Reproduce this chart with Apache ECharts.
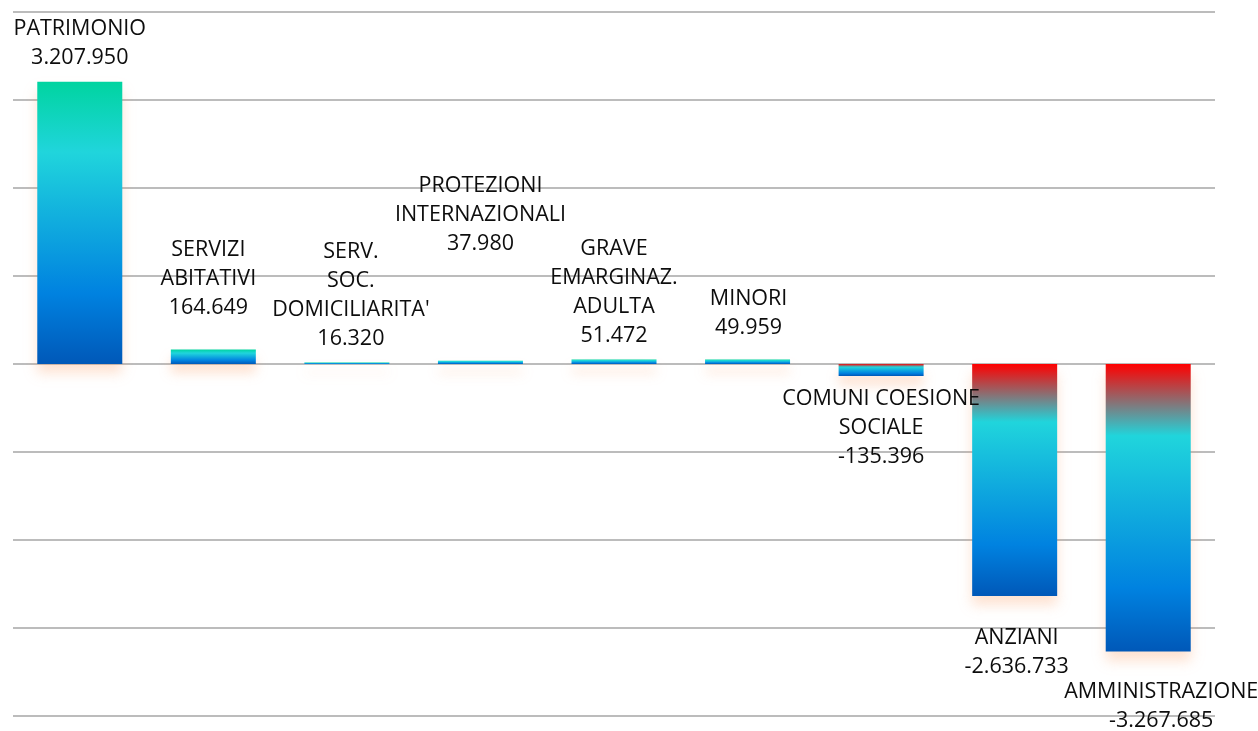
<!DOCTYPE html>
<html>
<head>
<meta charset="utf-8">
<script src="https://cdn.jsdelivr.net/npm/echarts@6/dist/echarts.min.js"></script>
<style>
  html, body { margin: 0; padding: 0; background: #fff; }
  #chart { width: 1258px; height: 731px; }
</style>
</head>
<body>
<div id="chart"></div>
<script>
// dati
var categories = [
  "PATRIMONIO",
  "SERVIZI\nABITATIVI",
  "SERV.\nSOC.\nDOMICILIARITA'",
  "PROTEZIONI\nINTERNAZIONALI",
  "GRAVE\nEMARGINAZ.\nADULTA",
  "MINORI",
  "COMUNI COESIONE\nSOCIALE",
  "ANZIANI",
  "AMMINISTRAZIONE"
];
var values = [3207950, 164649, 16320, 37980, 51472, 49959, -135396, -2636733, -3267685];
var yTicks = [-4000000, -3000000, -2000000, -1000000, 0, 1000000, 2000000, 3000000, 4000000];

// spostamenti delle etichette (posizionate a mano nell'originale)
var labelOffsets = [[0, 2], [-5, -16], [4, 2], [0, -91], [0, 2], [1, -6], [0, -3], [2, 16], [13, 15]];

function fmt (v) {
  var s = Math.abs(v).toString().replace(/\B(?=(\d{3})+(?!\d))/g, ".");
  return (v < 0 ? "-" : "") + s;
}

var posGradient = new echarts.graphic.LinearGradient(0, 0, 0, 1, [
  { offset: 0, color: "#00d4a0" },
  { offset: 0.25, color: "#20d5dc" },
  { offset: 0.75, color: "#0082e0" },
  { offset: 1, color: "#0058b8" }
]);
var negGradient = new echarts.graphic.LinearGradient(0, 0, 0, 1, [
  { offset: 0, color: "#ff0000" },
  { offset: 0.25, color: "#20d5dc" },
  { offset: 0.78, color: "#0082e0" },
  { offset: 1, color: "#0058b8" }
]);

var myChart = echarts.init(document.getElementById("chart"));
var option = {
  animation: false,
  grid: { left: 13, right: 43, top: 12, bottom: 15 },
  xAxis: {
    type: "category",
    data: categories,
    axisLine: { show: false },
    axisTick: { show: false },
    axisLabel: { show: false }
  },
  yAxis: {
    type: "value",
    min: yTicks[0],
    max: yTicks[yTicks.length - 1],
    interval: 1000000,
    axisLabel: { show: false },
    axisLine: { show: false },
    axisTick: { show: false },
    splitLine: { lineStyle: { color: "#a6a6a6", width: 1.5 } }
  },
  series: [{
    type: "bar",
    barWidth: 85,
    data: values.map(function (v, i) {
      return {
        value: v,
        itemStyle: {
          color: v >= 0 ? posGradient : negGradient,
          shadowColor: "rgba(250, 150, 90, 0.28)",
          shadowBlur: 12,
          shadowOffsetY: 9
        },
        label: {
          position: v >= 0 ? "top" : "bottom",
          offset: labelOffsets[i]
        }
      };
    }),
    label: {
      show: true,
      distance: 11,
      fontFamily: "Open Sans",
      fontSize: 21.5,
      lineHeight: 29,
      color: "#0d0d0d",
      align: "center",
      formatter: function (p) {
        return categories[p.dataIndex] + "\n" + fmt(p.value);
      }
    }
  }]
};
myChart.setOption(option);
</script>
</body>
</html>
